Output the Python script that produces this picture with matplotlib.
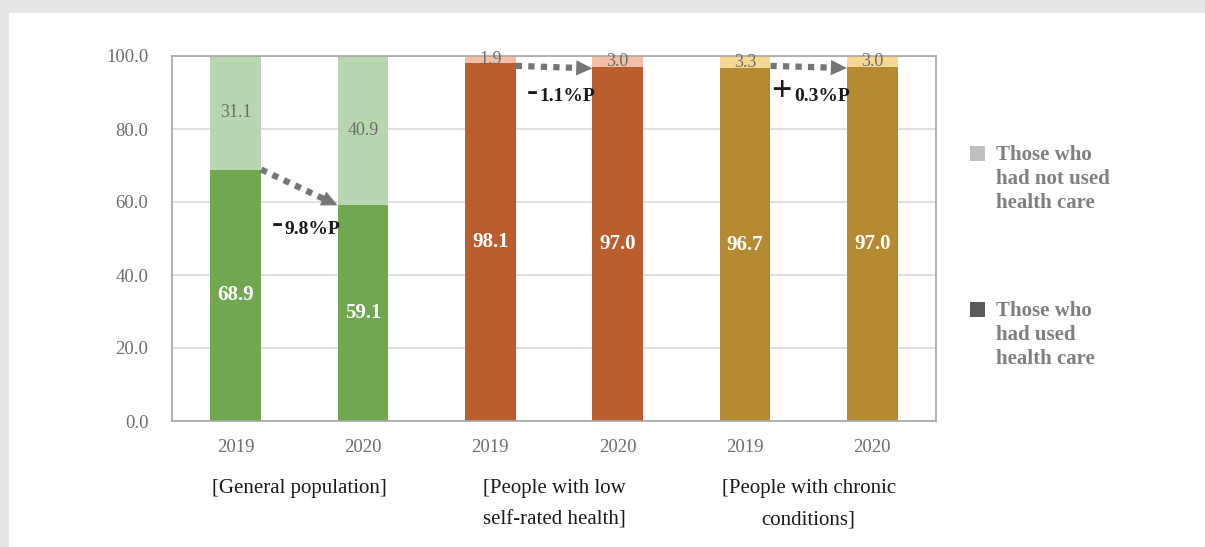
import matplotlib.pyplot as plt
from matplotlib.patches import Rectangle

years = ['2019', '2020', '2019', '2020', '2019', '2020']
groups = ['[General population]', '[People with low\nself-rated health]', '[People with chronic\nconditions]']
used = [68.9, 59.1, 98.1, 97.0, 96.7, 97.0]
not_used = [31.1, 40.9, 1.9, 3.0, 3.3, 3.0]
dark_colors = ['#70a750', '#70a750', '#bb5e2e', '#bb5e2e', '#b58a32', '#b58a32']
light_colors = ['#b8d6b0', '#b8d6b0', '#f4bfa6', '#f4bfa6', '#f7d891', '#f7d891']
changes = [('-', '9.8%P'), ('-', '1.1%P'), ('+', '0.3%P')]
arrow_y = [(68.9, 59.1), (97.3, 96.6), (97.3, 96.7)]
change_y = [52.6, 88.8, 88.8]

plt.rcParams['font.family'] = ['Liberation Serif', 'DejaVu Serif']

fig = plt.figure(figsize=(12.05, 5.47), dpi=100)
fig.patch.set_facecolor('#e6e7e8')
fig.patches.append(Rectangle((9 / 1205, 0), 1, 1 - 13 / 547, transform=fig.transFigure,
                             facecolor='white', edgecolor='none', zorder=-1))

ax = fig.add_axes([172 / 1205, 1 - 421 / 547, 764 / 1205, 365 / 547])
ax.set_facecolor('white')
x = list(range(len(years)))
w = 0.4
ax.bar(x, used, width=w, color=dark_colors, zorder=2)
ax.bar(x, not_used, width=w, bottom=used, color=light_colors, zorder=2)

for i in x:
    ax.text(i, used[i] / 2, f'{used[i]:.1f}', ha='center', va='center', color='white',
            fontsize=15, fontweight='bold', zorder=3)
    ax.text(i, used[i] + not_used[i] / 2, f'{not_used[i]:.1f}', ha='center', va='center',
            color='#6d6d6d', fontsize=13, zorder=3)

arrow_col = '#767676'
for g in range(3):
    i = 2 * g
    y0, y1 = arrow_y[g]
    ax.plot([i + w / 2, i + 1 - w / 2 - 0.06], [y0, y0 + (y1 - y0) * 0.9], color=arrow_col, lw=4.5,
            linestyle=(0, (1, 1)), dash_capstyle='butt', zorder=4)
    ax.annotate('', xy=(i + 1 - w / 2, y1), xytext=(i + w / 2, y0),
                arrowprops=dict(arrowstyle='-|>,head_length=1.15,head_width=0.55', color=arrow_col,
                                lw=0, shrinkA=0, shrinkB=0), zorder=5)
    sign, val = changes[g]
    ax.text(i + 0.37, change_y[g] + 1.2, sign, ha='right', va='center',
            fontsize=26 if sign == '+' else 24, fontweight='bold', color='#1a1a1a')
    ax.text(i + 0.385, change_y[g], val, ha='left', va='center', fontsize=14,
            fontweight='bold', color='#1a1a1a')

ax.set_xlim(-0.5, 5.5)
ax.set_ylim(0, 100)
ax.set_yticks([0, 20, 40, 60, 80, 100])
ax.set_yticklabels([f'{v:.1f}' for v in [0, 20, 40, 60, 80, 100]])
ax.set_xticks(x)
ax.set_xticklabels(years)
ax.tick_params(length=0, labelsize=13.5, colors='#6d6d6d')
ax.tick_params(axis='y', pad=17)
ax.tick_params(axis='x', pad=13)
ax.grid(axis='y', color='#d9d9d9', lw=1.2, zorder=0)
for s in ax.spines.values():
    s.set_color('#a6a6a6')
    s.set_linewidth(1.2)

for g, name in enumerate(groups):
    ax.text(2 * g + 0.5, -0.16, name, transform=ax.get_xaxis_transform(), ha='center', va='top',
            fontsize=15, color='#1a1a1a', linespacing=1.9)

legend_items = [('#bfbfbf', 'Those who\nhad not used\nhealth care', 1 - 146 / 547),
                ('#595959', 'Those who\nhad used\nhealth care', 1 - 302 / 547)]
for color, label, ytop in legend_items:
    fig.patches.append(Rectangle((970 / 1205, ytop - 15 / 547), 15 / 1205, 15 / 547,
                                 transform=fig.transFigure, facecolor=color, edgecolor='none'))
    fig.text(996 / 1205, ytop + 1 / 547, label, ha='left', va='top', fontsize=15,
             fontweight='bold', color='#7f7f7f', linespacing=1.25)

fig.savefig('out.png', dpi=100)
